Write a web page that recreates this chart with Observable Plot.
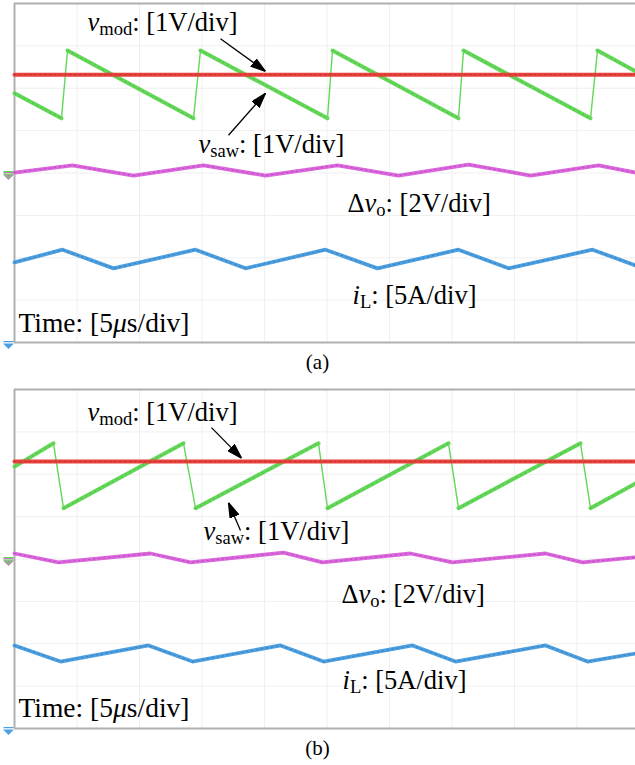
<!DOCTYPE html>
<html><head><meta charset="utf-8">
<script src="https://cdn.jsdelivr.net/npm/d3@7"></script>
<script src="https://cdn.jsdelivr.net/npm/@observablehq/plot@0.6"></script>
<style>
html,body{margin:0;padding:0;background:#fff;}
body{width:635px;overflow:hidden;}
svg{display:block;}
.cap{font-family:"Liberation Serif","Times New Roman",serif;font-size:21px;line-height:24px;text-align:center;color:#000;}
</style></head>
<body>
<div id="pa"></div><div class="cap" style="height:36px">(a)</div>
<div id="pb"></div><div class="cap" style="height:29px">(b)</div>
<script>
// ---- scope scales: time in µs (5 µs/div), vertical in screen divisions ----
const timeTicks = [5, 10, 15, 20, 25, 30, 35, 40, 45];
const divTicks = [-3, -2, -1, 0, 1, 2, 3];
const labelText = ["*v*~mod~: [1V/div]", "*v*~saw~: [1V/div]", "Δ*v*~o~: [2V/div]", "*i*~L~: [5A/div]", "Time: [5*μ*s/div]"];

const aModT = [0, 49.68];
const aModV = [2.32, 2.32];
const aSawT = [0, 3.76, 4.24, 14.32, 14.88, 25.04, 25.44, 35.52, 35.92, 46.08, 46.64, 49.68];
const aSawV = [1.88, 1.29, 2.89, 1.29, 2.89, 1.29, 2.89, 1.29, 2.89, 1.29, 2.89, 2.40];
const aVoT = [0, 4.64, 9.52, 15.12, 20.08, 25.84, 30.72, 36.32, 41.28, 46.72, 49.68];
const aVoV = [0.01, 0.18, -0.06, 0.18, -0.06, 0.18, -0.06, 0.20, -0.06, 0.18, 0.01];
const aIlT = [0, 3.84, 7.92, 14.48, 18.48, 24.88, 29.04, 35.52, 39.52, 46.24, 49.68];
const aIlV = [-2.11, -1.81, -2.25, -1.81, -2.25, -1.81, -2.25, -1.81, -2.25, -1.81, -2.18];
const aGround = [-0.06, -0.06, -4.05];

// ---- panel (b) traces ----
const bModT = [0, 49.68];
const bModV = [2.30, 2.30];
const bSawT = [0, 3.12, 3.92, 13.52, 14.48, 24.32, 25.04, 34.72, 35.52, 45.28, 46.08, 49.68];
const bSawV = [2.18, 2.73, 1.20, 2.73, 1.20, 2.73, 1.20, 2.73, 1.20, 2.73, 1.20, 1.78];
const bVoT = [0, 3.52, 10.88, 14.08, 21.52, 24.64, 31.68, 35.04, 42.48, 45.44, 49.68];
const bVoV = [0.13, -0.08, 0.13, -0.08, 0.15, -0.08, 0.13, -0.08, 0.13, -0.08, 0.04];
const bIlT = [0, 3.68, 10.72, 14.24, 21.28, 24.72, 31.84, 35.28, 42.48, 45.84, 49.68];
const bIlV = [-2.04, -2.42, -2.04, -2.42, -2.04, -2.42, -2.04, -2.42, -2.04, -2.42, -2.23];
const bGround = [-0.06, -0.06, -4.05];

const colors = {mod: "#e8423d", modDark: "#8a1f1f", saw: "#63d858", sawDark: "#2f7a2a",
  vo: "#dc66dd", voDark: "#7a2a80", il: "#4c9fe0", ilDark: "#1f4f80"};

function segs(T, V) {
  return d3.range(T.length - 1).map(i => ({x1: T[i], y1: V[i], x2: T[i + 1], y2: V[i + 1],
    fast: (T[i + 1] - T[i]) < 1.5}));
}

const arrowHead = (color, context) => {
  const m = d3.create("svg:marker")
    .attr("viewBox", "0 -5 15 10")
    .attr("refX", 15).attr("refY", 0)
    .attr("markerUnits", "userSpaceOnUse")
    .attr("markerWidth", 15).attr("markerHeight", 10)
    .attr("orient", "auto");
  m.append("path").attr("d", "M0,-4.6L15,0L0,4.6Z").attr("fill", "#000");
  return m.node();
};

const groundSymbol = {draw(ctx) {
  ctx.moveTo(-5, -3); ctx.lineTo(5, -3);
  ctx.moveTo(-4, -0.5); ctx.lineTo(4, -0.5); ctx.lineTo(0, 3.5); ctx.closePath();
}};

function trace(T, V, c, dark, w) {
  const pts = d3.zip(T, V);
  return [
    Plot.line(pts, {stroke: c, strokeWidth: w, strokeLinejoin: "round", strokeLinecap: "round"}),
    Plot.line(pts, {stroke: dark, strokeWidth: 1, strokeOpacity: 0.4, strokeDasharray: "1.5,3.5"})
  ];
}

function richify(svg) {
  const NS = "http://www.w3.org/2000/svg";
  svg.querySelectorAll("text").forEach(t => {
    const s = t.textContent;
    if (!/[*~]/.test(s)) return;
    while (t.firstChild) t.removeChild(t.firstChild);
    const re = /\*([^*]+)\*|~([^~]+)~|([^*~]+)/g;
    let m, shift = 0;
    while ((m = re.exec(s))) {
      const ts = document.createElementNS(NS, "tspan");
      if (m[2]) {
        ts.textContent = m[2];
        ts.setAttribute("font-size", "0.7em");
        ts.setAttribute("dy", 4); shift = 4;
      } else {
        ts.textContent = m[1] || m[3];
        if (m[1]) ts.setAttribute("font-style", "italic");
        if (shift) { ts.setAttribute("dy", -shift); shift = 0; }
      }
      t.appendChild(ts);
    }
  });
}

function panel(P) {
  const saw = segs(P.sawT, P.sawV);
  const plot = Plot.plot({
    width: 635, height: 350,
    marginLeft: 14, marginRight: 0, marginTop: 3, marginBottom: 8,
    x: {domain: [0, 49.68], axis: null},
    y: {domain: [-4, 4], axis: null},
    style: {background: "transparent", overflow: "visible"},
    marks: [
      Plot.ruleX(timeTicks, {stroke: "#efefef", strokeWidth: 1}),
      Plot.ruleY(divTicks, {stroke: "#efefef", strokeWidth: 1}),
      Plot.ruleX([0], {stroke: "#b0b0b0", strokeWidth: 2}),
      Plot.ruleY([-4, 4], {stroke: "#b0b0b0", strokeWidth: 2}),
      ...trace(P.voT, P.voV, colors.vo, colors.voDark, 3.8),
      ...trace(P.ilT, P.ilV, colors.il, colors.ilDark, 3.8),
      Plot.link(saw.filter(d => !d.fast), {x1: "x1", y1: "y1", x2: "x2", y2: "y2", stroke: colors.saw, strokeWidth: 4, strokeLinecap: "round"}),
      Plot.link(saw.filter(d => d.fast), {x1: "x1", y1: "y1", x2: "x2", y2: "y2", stroke: colors.saw, strokeWidth: 1.4, strokeLinecap: "round"}),
      Plot.link(saw.filter(d => !d.fast), {x1: "x1", y1: "y1", x2: "x2", y2: "y2", stroke: colors.sawDark, strokeWidth: 1, strokeOpacity: 0.4, strokeDasharray: "1.5,3.5"}),
      ...trace(P.modT, P.modV, colors.mod, colors.modDark, 4),
      Plot.dot([P.ground[0]], {x: () => 0, y: d => d, dx: -6, symbol: groundSymbol, stroke: colors.vo, fill: colors.vo, strokeWidth: 1.2}),
      Plot.dot([P.ground[1]], {x: () => 0, y: d => d, dx: -6, dy: -1, symbol: groundSymbol, stroke: colors.saw, fill: "none", strokeWidth: 1.2}),
      Plot.dot([P.ground[2]], {x: () => 0, y: d => d, dx: -6, symbol: groundSymbol, stroke: colors.il, fill: colors.il, strokeWidth: 1.2}),
      Plot.link(P.arrows, {x1: d => d[0], y1: d => d[1], x2: d => d[2], y2: d => d[3], stroke: "#000", strokeWidth: 1.3, markerEnd: arrowHead}),
      Plot.text(labelText.slice(0, 4), {x: (d, i) => P.labels[i][0], y: (d, i) => P.labels[i][1], text: d => d,
        textAnchor: "start", lineAnchor: "bottom", fontSize: 26.5, fontFamily: "Liberation Serif", fill: "#000"}),
      Plot.text(labelText.slice(4), {x: () => P.labels[4][0], y: () => P.labels[4][1], text: d => d,
        textAnchor: "start", lineAnchor: "bottom", fontSize: 27.5, fontFamily: "Liberation Serif", fill: "#000"})
    ]
  });
  richify(plot);
  return plot;
}

document.getElementById("pa").appendChild(panel({
  modT: aModT, modV: aModV, sawT: aSawT, sawV: aSawV, voT: aVoT, voV: aVoV, ilT: aIlT, ilV: aIlV, ground: aGround,
  labels: [[5.84, 3.34], [14.72, 0.48], [26.64, -0.93], [27.04, -3.08], [0.32, -3.76]],
  arrows: [[16.48, 3.17, 20.08, 2.40], [17.12, 0.89, 20.08, 1.88]]
}));
document.getElementById("pb").appendChild(panel({
  modT: bModT, modV: bModV, sawT: bSawT, sawV: bSawV, voT: bVoT, voV: bVoV, ilT: bIlT, ilV: bIlV, ground: bGround,
  labels: [[5.84, 3.25], [15.12, 0.44], [26.16, -1.05], [26.24, -3.06], [0.32, -3.72]],
  arrows: [[15.76, 3.10, 18.16, 2.38], [18.08, 0.67, 17.12, 1.33]]
}));
</script>
</body></html>
